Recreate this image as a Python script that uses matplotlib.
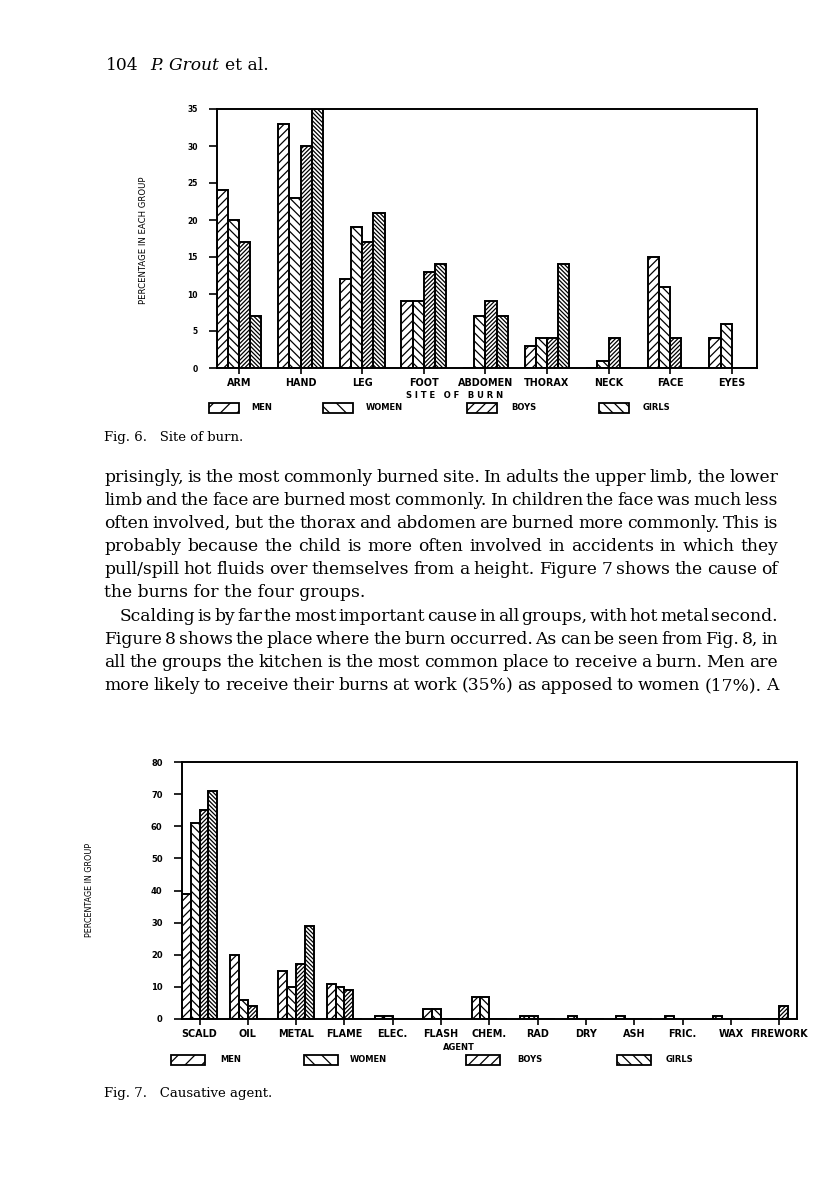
import numpy as np
import matplotlib.pyplot as plt
from matplotlib.patches import Rectangle

# Fig. 6 - site of burn (percentage in each group)
sites = ['ARM', 'HAND', 'LEG', 'FOOT', 'ABDOMEN', 'THORAX', 'NECK', 'FACE', 'EYES']
site_men = [24, 33, 12, 9, 0, 3, 0, 15, 4]
site_women = [20, 23, 19, 9, 7, 4, 1, 11, 6]
site_boys = [17, 30, 17, 13, 9, 4, 4, 4, 0]
site_girls = [7, 35, 21, 14, 7, 14, 0, 0, 0]

# Fig. 7 - causative agent
agents = ['SCALD', 'OIL', 'METAL', 'FLAME', 'ELEC.', 'FLASH', 'CHEM.', 'RAD',
          'DRY', 'ASH', 'FRIC.', 'WAX', 'FIREWORK']
agent_men = [39, 20, 15, 11, 1, 3, 7, 1, 1, 1, 1, 1, 0]
agent_women = [61, 6, 10, 10, 1, 3, 7, 1, 0, 0, 0, 0, 0]
agent_boys = [65, 4, 17, 9, 0, 0, 0, 0, 0, 0, 0, 0, 4]
agent_girls = [71, 0, 29, 0, 0, 0, 0, 0, 0, 0, 0, 0, 0]

groups = ['MEN', 'WOMEN', 'BOYS', 'GIRLS']
hatches = ['/' * 4, '\\' * 4, '/' * 8, '\\' * 8]

W, H = 816, 1204
plt.rcParams['hatch.linewidth'] = 0.9
fig = plt.figure(figsize=(W / 100, H / 100), dpi=100)
fig.patch.set_facecolor('white')


def fx(x):
    return x / W


def fy(y):
    return 1 - y / H


plot_font = dict(family='DejaVu Sans', weight='bold', size=6)


def bar_chart(box, cats, series, ymax, ystep, pos0, step, bw, ysize):
    left, top, right, bottom = box
    ax = fig.add_axes([fx(left), fy(bottom), (right - left) / W, (bottom - top) / H])
    x = np.arange(len(cats))
    for i, (vals, h) in enumerate(zip(series, hatches)):
        ax.bar(x + (i - 1.5) * bw, vals, bw, fill=False, hatch=h,
               edgecolor='black', linewidth=1.4)
    ax.set_xlim((left - pos0) / step, (right - pos0) / step)
    ax.set_ylim(0, ymax)
    ax.set_yticks(np.arange(0, ymax + 1, ystep))
    ax.set_yticklabels([str(v) for v in range(0, ymax + 1, ystep)],
                       fontdict=dict(plot_font, size=ysize))
    ax.set_xticks(x)
    ax.set_xticklabels(cats, fontdict=dict(plot_font, size=6.9))
    ax.tick_params(axis='y', direction='out', length=6, width=1.2, pad=8)
    ax.tick_params(axis='x', direction='out', length=4, width=1.2, pad=3.5)
    for s in ax.spines.values():
        s.set_linewidth(1.4)
    return ax


def legend_row(y, boxes, texts, bw):
    for (bx, tx), lab, h in zip(zip(boxes, texts), groups, hatches):
        fig.add_artist(Rectangle((fx(bx), fy(y + 5)), bw / W, 10 / H,
                                 transform=fig.transFigure, fill=False,
                                 hatch=h[:3] if len(h) > 4 else h[:2],
                                 edgecolor='black', linewidth=1.3))
        fig.text(fx(tx), fy(y), lab, ha='left', va='center', **plot_font)


# ---- Fig. 6 ----
bar_chart((217, 109, 757, 368), sites,
          [site_men, site_women, site_boys, site_girls],
          35, 5, 239, 61.6, 0.182, 5.5)
fig.text(fx(144), fy(240), 'PERCENTAGE IN EACH GROUP', rotation=90,
         ha='center', va='center', family='DejaVu Sans', size=6.1)
fig.text(fx(455), fy(396), 'S I T E   O F   B U R N', ha='center', va='center', **plot_font)
legend_row(408, [209, 323, 467, 599], [251, 366, 511, 643], 30)

# ---- Fig. 7 ----
bar_chart((182, 762, 797, 1019), agents,
          [agent_men, agent_women, agent_boys, agent_girls],
          80, 10, 199.5, 48.3, 0.184, 6)
fig.text(fx(90), fy(890), 'PERCENTAGE IN GROUP', rotation=90,
         ha='center', va='center', family='DejaVu Sans', size=5.8)
fig.text(fx(459), fy(1048), 'AGENT', ha='center', va='center', **plot_font)
legend_row(1060, [171, 304, 466, 617], [220, 350, 517, 666], 34)

# ---- page text ----
serif = 'DejaVu Serif'
body_size = 12.3
renderer = fig.canvas.get_renderer()


def place_words(words, y, x0, x1, size):
    texts = [fig.text(0, 0, w, family=serif, size=size, va='center') for w in words]
    widths = [t.get_window_extent(renderer).width for t in texts]
    gap = (x1 - x0 - sum(widths)) / (len(words) - 1)
    x = x0
    for t, w in zip(texts, widths):
        t.set_position((fx(x), fy(y)))
        x += w + gap


# running head
hx = 106
for part, st, extra in [('104', 'normal', 12), ('P. Grout', 'italic', 5), ('et al.', 'normal', 0)]:
    t = fig.text(fx(hx), fy(66), part, family=serif, size=body_size, style=st, va='center')
    hx += t.get_window_extent(renderer).width + extra

body = [
    ('prisingly, is the most commonly burned site. In adults the upper limb, the lower', 104, True),
    ('limb and the face are burned most commonly. In children the face was much less', 104, True),
    ('often involved, but the thorax and abdomen are burned more commonly. This is', 104, True),
    ('probably because the child is more often involved in accidents in which they', 104, True),
    ('pull/spill hot fluids over themselves from a height. Figure 7 shows the cause of', 104, True),
    ('the burns for the four groups.', 104, False),
    ('Scalding is by far the most important cause in all groups, with hot metal second.', 120, True),
    ('Figure 8 shows the place where the burn occurred. As can be seen from Fig. 8, in', 104, True),
    ('all the groups the kitchen is the most common place to receive a burn. Men are', 104, True),
    ('more likely to receive their burns at work (35%) as apposed to women (17%). A', 104, True),
]
for k, (line, x0, just) in enumerate(body):
    y = 477 + 23.2 * k
    if just:
        place_words(line.split(), y, x0, 778, body_size)
    else:
        fig.text(fx(x0), fy(y), line, family=serif, size=body_size, va='center')

fig.text(fx(104), fy(437), 'Fig. 6.   Site of burn.', family=serif, size=9.5, va='center')
fig.text(fx(104), fy(1093), 'Fig. 7.   Causative agent.', family=serif, size=9.5, va='center')

fig.savefig('out.png', dpi=100, facecolor='white')
